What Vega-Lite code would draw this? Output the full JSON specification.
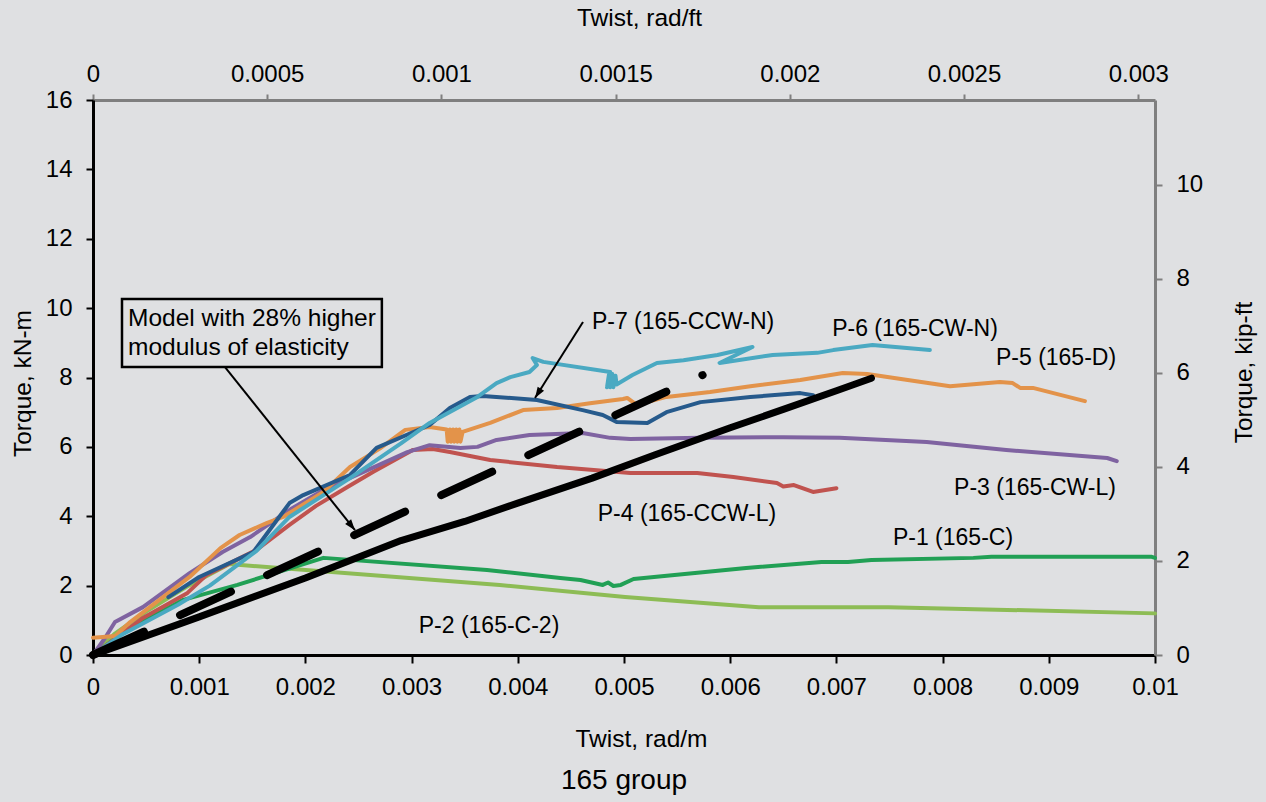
{
  "$schema": "https://vega.github.io/schema/vega-lite/v6.json",
  "width": 1062,
  "height": 555,
  "autosize": {"type": "none"},
  "padding": {"left": 93, "top": 100, "right": 111, "bottom": 147},
  "background": "#dfe0e2",
  "config": {
    "view": {"stroke": null},
    "font": "Liberation Sans",
    "axis": {
      "grid": false,
      "labelFont": "Liberation Sans",
      "labelFontSize": 24,
      "labelColor": "#000000",
      "titleFont": "Liberation Sans",
      "titleFontSize": 24.5,
      "titleFontWeight": "normal",
      "titleColor": "#000000",
      "labelFlush": false,
      "labelOverlap": false
    }
  },
  "title": {
    "text": "165 group",
    "orient": "bottom",
    "anchor": "middle",
    "offset": 16,
    "font": "Liberation Sans",
    "fontSize": 28,
    "fontWeight": "normal",
    "color": "#000000"
  },
  "datasets": {
    "curves": [
      {"s": "P-2", "i": 0, "v": 0, "T": 0},
      {"s": "P-2", "i": 1, "v": 0.0002, "T": 0.6},
      {"s": "P-2", "i": 2, "v": 0.0005, "T": 1.25},
      {"s": "P-2", "i": 3, "v": 0.0009, "T": 2.0},
      {"s": "P-2", "i": 4, "v": 0.00128, "T": 2.62},
      {"s": "P-2", "i": 5, "v": 0.00383, "T": 2.02},
      {"s": "P-2", "i": 6, "v": 0.00501, "T": 1.67},
      {"s": "P-2", "i": 7, "v": 0.00627, "T": 1.38},
      {"s": "P-2", "i": 8, "v": 0.00749, "T": 1.38},
      {"s": "P-2", "i": 9, "v": 0.01, "T": 1.2},

      {"s": "P-1", "i": 0, "v": 0, "T": 0},
      {"s": "P-1", "i": 1, "v": 0.0002, "T": 0.45},
      {"s": "P-1", "i": 2, "v": 0.00028, "T": 0.66},
      {"s": "P-1", "i": 3, "v": 0.00085, "T": 1.59},
      {"s": "P-1", "i": 4, "v": 0.00136, "T": 2.02},
      {"s": "P-1", "i": 5, "v": 0.00217, "T": 2.8},
      {"s": "P-1", "i": 6, "v": 0.00371, "T": 2.45},
      {"s": "P-1", "i": 7, "v": 0.0044, "T": 2.22},
      {"s": "P-1", "i": 8, "v": 0.00459, "T": 2.16},
      {"s": "P-1", "i": 9, "v": 0.0048, "T": 2.02},
      {"s": "P-1", "i": 10, "v": 0.00485, "T": 2.09},
      {"s": "P-1", "i": 11, "v": 0.0049, "T": 1.99},
      {"s": "P-1", "i": 12, "v": 0.00497, "T": 2.02},
      {"s": "P-1", "i": 13, "v": 0.00509, "T": 2.19},
      {"s": "P-1", "i": 14, "v": 0.00615, "T": 2.51},
      {"s": "P-1", "i": 15, "v": 0.00686, "T": 2.68},
      {"s": "P-1", "i": 16, "v": 0.00711, "T": 2.68},
      {"s": "P-1", "i": 17, "v": 0.00733, "T": 2.74},
      {"s": "P-1", "i": 18, "v": 0.00829, "T": 2.8},
      {"s": "P-1", "i": 19, "v": 0.00846, "T": 2.83},
      {"s": "P-1", "i": 20, "v": 0.00997, "T": 2.83},
      {"s": "P-1", "i": 21, "v": 0.01, "T": 2.8},

      {"s": "P-4", "i": 0, "v": 0, "T": 0},
      {"s": "P-4", "i": 1, "v": 0.00028, "T": 0.63},
      {"s": "P-4", "i": 2, "v": 0.00047, "T": 1.07},
      {"s": "P-4", "i": 3, "v": 0.00089, "T": 1.79},
      {"s": "P-4", "i": 4, "v": 0.00107, "T": 2.31},
      {"s": "P-4", "i": 5, "v": 0.00154, "T": 3.03},
      {"s": "P-4", "i": 6, "v": 0.00185, "T": 3.75},
      {"s": "P-4", "i": 7, "v": 0.0021, "T": 4.3},
      {"s": "P-4", "i": 8, "v": 0.0024, "T": 4.85},
      {"s": "P-4", "i": 9, "v": 0.00264, "T": 5.28},
      {"s": "P-4", "i": 10, "v": 0.00296, "T": 5.82},
      {"s": "P-4", "i": 11, "v": 0.00301, "T": 5.91},
      {"s": "P-4", "i": 12, "v": 0.0032, "T": 5.94},
      {"s": "P-4", "i": 13, "v": 0.00336, "T": 5.85},
      {"s": "P-4", "i": 14, "v": 0.00374, "T": 5.62},
      {"s": "P-4", "i": 15, "v": 0.00437, "T": 5.42},
      {"s": "P-4", "i": 16, "v": 0.00506, "T": 5.25},
      {"s": "P-4", "i": 17, "v": 0.00569, "T": 5.25},
      {"s": "P-4", "i": 18, "v": 0.00603, "T": 5.13},
      {"s": "P-4", "i": 19, "v": 0.00644, "T": 4.96},
      {"s": "P-4", "i": 20, "v": 0.0065, "T": 4.86},
      {"s": "P-4", "i": 21, "v": 0.0066, "T": 4.9},
      {"s": "P-4", "i": 22, "v": 0.00678, "T": 4.7},
      {"s": "P-4", "i": 23, "v": 0.007, "T": 4.81},

      {"s": "P-3", "i": 0, "v": 0, "T": 0},
      {"s": "P-3", "i": 1, "v": 0.000113, "T": 0.49},
      {"s": "P-3", "i": 2, "v": 0.000207, "T": 0.95},
      {"s": "P-3", "i": 3, "v": 0.00047, "T": 1.38},
      {"s": "P-3", "i": 4, "v": 0.00091, "T": 2.36},
      {"s": "P-3", "i": 5, "v": 0.00122, "T": 2.97},
      {"s": "P-3", "i": 6, "v": 0.00148, "T": 3.4},
      {"s": "P-3", "i": 7, "v": 0.00186, "T": 4.2},
      {"s": "P-3", "i": 8, "v": 0.00217, "T": 4.76},
      {"s": "P-3", "i": 9, "v": 0.0026, "T": 5.35},
      {"s": "P-3", "i": 10, "v": 0.00296, "T": 5.85},
      {"s": "P-3", "i": 11, "v": 0.00317, "T": 6.05},
      {"s": "P-3", "i": 12, "v": 0.00346, "T": 5.97},
      {"s": "P-3", "i": 13, "v": 0.00362, "T": 6.0},
      {"s": "P-3", "i": 14, "v": 0.0038, "T": 6.2},
      {"s": "P-3", "i": 15, "v": 0.00411, "T": 6.34},
      {"s": "P-3", "i": 16, "v": 0.00461, "T": 6.4},
      {"s": "P-3", "i": 17, "v": 0.00487, "T": 6.26},
      {"s": "P-3", "i": 18, "v": 0.00506, "T": 6.23},
      {"s": "P-3", "i": 19, "v": 0.00572, "T": 6.26},
      {"s": "P-3", "i": 20, "v": 0.0065, "T": 6.28},
      {"s": "P-3", "i": 21, "v": 0.00703, "T": 6.26},
      {"s": "P-3", "i": 22, "v": 0.00785, "T": 6.14},
      {"s": "P-3", "i": 23, "v": 0.0086, "T": 5.91},
      {"s": "P-3", "i": 24, "v": 0.00955, "T": 5.68},
      {"s": "P-3", "i": 25, "v": 0.00964, "T": 5.59},

      {"s": "P-5", "i": 0, "v": 0, "T": 0.5},
      {"s": "P-5", "i": 1, "v": 0.00021, "T": 0.55},
      {"s": "P-5", "i": 2, "v": 0.00035, "T": 0.95},
      {"s": "P-5", "i": 3, "v": 0.00091, "T": 2.25},
      {"s": "P-5", "i": 4, "v": 0.0012, "T": 3.08},
      {"s": "P-5", "i": 5, "v": 0.00138, "T": 3.46},
      {"s": "P-5", "i": 6, "v": 0.00164, "T": 3.81},
      {"s": "P-5", "i": 7, "v": 0.00179, "T": 3.98},
      {"s": "P-5", "i": 8, "v": 0.00217, "T": 4.7},
      {"s": "P-5", "i": 9, "v": 0.00242, "T": 5.42},
      {"s": "P-5", "i": 10, "v": 0.0027, "T": 5.95},
      {"s": "P-5", "i": 11, "v": 0.00294, "T": 6.49},
      {"s": "P-5", "i": 12, "v": 0.00317, "T": 6.57},
      {"s": "P-5", "i": 13, "v": 0.00333, "T": 6.5},
      {"s": "P-5", "i": 14, "v": 0.00334, "T": 6.15},
      {"s": "P-5", "i": 15, "v": 0.00336, "T": 6.5},
      {"s": "P-5", "i": 16, "v": 0.00337, "T": 6.15},
      {"s": "P-5", "i": 17, "v": 0.00339, "T": 6.5},
      {"s": "P-5", "i": 18, "v": 0.0034, "T": 6.15},
      {"s": "P-5", "i": 19, "v": 0.00342, "T": 6.5},
      {"s": "P-5", "i": 20, "v": 0.00343, "T": 6.15},
      {"s": "P-5", "i": 21, "v": 0.00345, "T": 6.5},
      {"s": "P-5", "i": 22, "v": 0.00346, "T": 6.15},
      {"s": "P-5", "i": 23, "v": 0.00348, "T": 6.43},
      {"s": "P-5", "i": 24, "v": 0.00374, "T": 6.69},
      {"s": "P-5", "i": 25, "v": 0.00405, "T": 7.06},
      {"s": "P-5", "i": 26, "v": 0.00437, "T": 7.12},
      {"s": "P-5", "i": 27, "v": 0.00468, "T": 7.26},
      {"s": "P-5", "i": 28, "v": 0.00499, "T": 7.38},
      {"s": "P-5", "i": 29, "v": 0.00503, "T": 7.41},
      {"s": "P-5", "i": 30, "v": 0.00512, "T": 7.21},
      {"s": "P-5", "i": 31, "v": 0.0054, "T": 7.44},
      {"s": "P-5", "i": 32, "v": 0.00581, "T": 7.58},
      {"s": "P-5", "i": 33, "v": 0.00619, "T": 7.75},
      {"s": "P-5", "i": 34, "v": 0.00666, "T": 7.93},
      {"s": "P-5", "i": 35, "v": 0.00706, "T": 8.13},
      {"s": "P-5", "i": 36, "v": 0.00729, "T": 8.1},
      {"s": "P-5", "i": 37, "v": 0.00807, "T": 7.75},
      {"s": "P-5", "i": 38, "v": 0.00854, "T": 7.87},
      {"s": "P-5", "i": 39, "v": 0.00866, "T": 7.84},
      {"s": "P-5", "i": 40, "v": 0.00873, "T": 7.7},
      {"s": "P-5", "i": 41, "v": 0.00885, "T": 7.7},
      {"s": "P-5", "i": 42, "v": 0.00934, "T": 7.32},

      {"s": "P-7", "i": 0, "v": 0.00071, "T": 1.67},
      {"s": "P-7", "i": 1, "v": 0.001, "T": 2.25},
      {"s": "P-7", "i": 2, "v": 0.00151, "T": 2.97},
      {"s": "P-7", "i": 3, "v": 0.00185, "T": 4.38},
      {"s": "P-7", "i": 4, "v": 0.00198, "T": 4.61},
      {"s": "P-7", "i": 5, "v": 0.00242, "T": 5.19},
      {"s": "P-7", "i": 6, "v": 0.00267, "T": 5.97},
      {"s": "P-7", "i": 7, "v": 0.00317, "T": 6.63},
      {"s": "P-7", "i": 8, "v": 0.00336, "T": 7.12},
      {"s": "P-7", "i": 9, "v": 0.00355, "T": 7.44},
      {"s": "P-7", "i": 10, "v": 0.00367, "T": 7.47},
      {"s": "P-7", "i": 11, "v": 0.00418, "T": 7.35},
      {"s": "P-7", "i": 12, "v": 0.00461, "T": 7.06},
      {"s": "P-7", "i": 13, "v": 0.0048, "T": 6.92},
      {"s": "P-7", "i": 14, "v": 0.00493, "T": 6.72},
      {"s": "P-7", "i": 15, "v": 0.00522, "T": 6.69},
      {"s": "P-7", "i": 16, "v": 0.0054, "T": 7.0},
      {"s": "P-7", "i": 17, "v": 0.00572, "T": 7.29},
      {"s": "P-7", "i": 18, "v": 0.00619, "T": 7.44},
      {"s": "P-7", "i": 19, "v": 0.00666, "T": 7.55},
      {"s": "P-7", "i": 20, "v": 0.00678, "T": 7.49},

      {"s": "P-6", "i": 0, "v": 0, "T": 0},
      {"s": "P-6", "i": 1, "v": 0.00028, "T": 0.6},
      {"s": "P-6", "i": 2, "v": 0.0008, "T": 1.45},
      {"s": "P-6", "i": 3, "v": 0.0011, "T": 2.0},
      {"s": "P-6", "i": 4, "v": 0.00154, "T": 3.0},
      {"s": "P-6", "i": 5, "v": 0.00185, "T": 3.98},
      {"s": "P-6", "i": 6, "v": 0.00242, "T": 5.1},
      {"s": "P-6", "i": 7, "v": 0.0029, "T": 6.1},
      {"s": "P-6", "i": 8, "v": 0.00317, "T": 6.69},
      {"s": "P-6", "i": 9, "v": 0.00362, "T": 7.44},
      {"s": "P-6", "i": 10, "v": 0.0038, "T": 7.84},
      {"s": "P-6", "i": 11, "v": 0.00393, "T": 8.01},
      {"s": "P-6", "i": 12, "v": 0.00411, "T": 8.16},
      {"s": "P-6", "i": 13, "v": 0.00418, "T": 8.36},
      {"s": "P-6", "i": 14, "v": 0.00414, "T": 8.56},
      {"s": "P-6", "i": 15, "v": 0.00424, "T": 8.45},
      {"s": "P-6", "i": 16, "v": 0.00487, "T": 8.16},
      {"s": "P-6", "i": 17, "v": 0.00484, "T": 7.72},
      {"s": "P-6", "i": 18, "v": 0.00486, "T": 8.12},
      {"s": "P-6", "i": 19, "v": 0.00487, "T": 7.72},
      {"s": "P-6", "i": 20, "v": 0.00489, "T": 8.1},
      {"s": "P-6", "i": 21, "v": 0.0049, "T": 7.72},
      {"s": "P-6", "i": 22, "v": 0.00492, "T": 8.05},
      {"s": "P-6", "i": 23, "v": 0.00493, "T": 7.8},
      {"s": "P-6", "i": 24, "v": 0.00508, "T": 8.07},
      {"s": "P-6", "i": 25, "v": 0.00531, "T": 8.42},
      {"s": "P-6", "i": 26, "v": 0.00556, "T": 8.5},
      {"s": "P-6", "i": 27, "v": 0.00588, "T": 8.65},
      {"s": "P-6", "i": 28, "v": 0.00621, "T": 8.88},
      {"s": "P-6", "i": 29, "v": 0.0059, "T": 8.42},
      {"s": "P-6", "i": 30, "v": 0.0064, "T": 8.65},
      {"s": "P-6", "i": 31, "v": 0.00682, "T": 8.71},
      {"s": "P-6", "i": 32, "v": 0.00697, "T": 8.79},
      {"s": "P-6", "i": 33, "v": 0.00734, "T": 8.94},
      {"s": "P-6", "i": 34, "v": 0.00788, "T": 8.79}
    ],
    "model": [
      {"i": 0, "v": 0, "T": 0},
      {"i": 1, "v": 0.001, "T": 1.1},
      {"i": 2, "v": 0.002, "T": 2.22},
      {"i": 3, "v": 0.0029, "T": 3.3},
      {"i": 4, "v": 0.0035, "T": 3.85},
      {"i": 5, "v": 0.004, "T": 4.38},
      {"i": 6, "v": 0.0047, "T": 5.1},
      {"i": 7, "v": 0.0053, "T": 5.78},
      {"i": 8, "v": 0.006, "T": 6.55},
      {"i": 9, "v": 0.0065, "T": 7.08},
      {"i": 10, "v": 0.007, "T": 7.62},
      {"i": 11, "v": 0.00733, "T": 7.98}
    ],
    "model28": [
      {"i": 0, "v": 0, "T": 0},
      {"i": 1, "v": 0.00574, "T": 8.07}
    ],
    "arrows": [
      {"id": "a1", "i": 0, "v": 0.001243, "T": 8.3},
      {"id": "a1", "i": 1, "v": 0.002467, "T": 3.6},
      {"id": "a2", "i": 0, "v": 0.004614, "T": 9.6},
      {"id": "a2", "i": 1, "v": 0.004162, "T": 7.41}
    ],
    "labels": [
      {"label": "P-7 (165-CCW-N)", "v": 0.005556, "T": 9.6},
      {"label": "P-6 (165-CW-N)", "v": 0.00774, "T": 9.4},
      {"label": "P-5 (165-D)", "v": 0.009068, "T": 8.56},
      {"label": "P-3 (165-CW-L)", "v": 0.00887, "T": 4.81},
      {"label": "P-4 (165-CCW-L)", "v": 0.005593, "T": 4.06},
      {"label": "P-1 (165-C)", "v": 0.008098, "T": 3.37},
      {"label": "P-2 (165-C-2)", "v": 0.003729, "T": 0.84}
    ],
    "box": [
      {"v": 0.000273, "v2": 0.00272, "T": 8.3, "T2": 10.26}
    ],
    "boxtext": [
      {"label": "Model with 28% higher", "v": 0.00033, "T": 9.69},
      {"label": "modulus of elasticity", "v": 0.00033, "T": 8.85}
    ],
    "corners": [
      {"radft": 0, "kipft": 0},
      {"radft": 0.003048, "kipft": 11.801}
    ]
  },
  "layer": [
    {
      "layer": [
        {
          "data": {"name": "box"},
          "mark": {"type": "rect", "fill": "#dfe0e2", "stroke": "#000000", "strokeWidth": 2.5},
          "encoding": {
            "x": {
              "field": "v", "type": "quantitative",
              "scale": {"domain": [0, 0.01], "nice": false, "zero": false},
              "axis": {
                "orient": "bottom",
                "values": [0, 0.001, 0.002, 0.003, 0.004, 0.005, 0.006, 0.007, 0.008, 0.009, 0.01],
                "format": "~g",
                "title": "Twist, rad/m",
                "titleX": 548, "titleY": 84,
                "titleAlign": "center", "titleBaseline": "middle", "titleAngle": 0,
                "domainColor": "#000000", "domainWidth": 3,
                "tickColor": "#000000", "tickWidth": 2, "tickSize": 8,
                "labelPadding": 12
              }
            },
            "x2": {"field": "v2"},
            "y": {
              "field": "T", "type": "quantitative",
              "scale": {"domain": [0, 16], "nice": false, "zero": false},
              "axis": {
                "orient": "left",
                "values": [0, 2, 4, 6, 8, 10, 12, 14, 16],
                "title": "Torque, kN-m",
                "titleX": -70, "titleY": 283,
                "titleAlign": "center", "titleBaseline": "middle", "titleAngle": -90,
                "domainColor": "#000000", "domainWidth": 3,
                "tickColor": "#000000", "tickWidth": 2, "tickSize": 7,
                "labelPadding": 14
              }
            },
            "y2": {"field": "T2"}
          }
        },
        {
          "data": {"name": "curves"},
          "mark": {"type": "line", "strokeWidth": 4, "strokeJoin": "round", "strokeCap": "round"},
          "encoding": {
            "x": {"field": "v", "type": "quantitative"},
            "y": {"field": "T", "type": "quantitative"},
            "order": {"field": "i", "type": "quantitative"},
            "color": {
              "field": "s", "type": "nominal", "legend": null,
              "scale": {
                "domain": ["P-2", "P-1", "P-4", "P-3", "P-5", "P-7", "P-6"],
                "range": ["#8dbc55", "#21a055", "#c0534f", "#7f63a1", "#e3934a", "#265a8c", "#4aa9c2"]
              }
            }
          }
        },
        {
          "data": {"name": "model"},
          "mark": {"type": "line", "color": "#000000", "strokeWidth": 7, "strokeCap": "round", "strokeJoin": "round"},
          "encoding": {
            "x": {"field": "v", "type": "quantitative"},
            "y": {"field": "T", "type": "quantitative"},
            "order": {"field": "i", "type": "quantitative"}
          }
        },
        {
          "data": {"name": "model28"},
          "mark": {"type": "line", "color": "#000000", "strokeWidth": 8, "strokeCap": "round", "strokeDash": [56, 39.8]},
          "encoding": {
            "x": {"field": "v", "type": "quantitative"},
            "y": {"field": "T", "type": "quantitative"},
            "order": {"field": "i", "type": "quantitative"}
          }
        },
        {
          "data": {"name": "arrows"},
          "mark": {"type": "line", "color": "#000000", "strokeWidth": 2},
          "encoding": {
            "x": {"field": "v", "type": "quantitative"},
            "y": {"field": "T", "type": "quantitative"},
            "detail": {"field": "id", "type": "nominal"},
            "order": {"field": "i", "type": "quantitative"}
          }
        },
        {
          "data": {"name": "arrows"},
          "transform": [{"filter": "datum.id === 'a1' && datum.i === 1"}],
          "mark": {"type": "point", "shape": "M0,0L-0.38,1.1L0.38,1.1Z", "filled": true, "color": "#000000", "opacity": 1, "size": 400, "angle": 141.4},
          "encoding": {
            "x": {"field": "v", "type": "quantitative"},
            "y": {"field": "T", "type": "quantitative"}
          }
        },
        {
          "data": {"name": "arrows"},
          "transform": [{"filter": "datum.id === 'a2' && datum.i === 1"}],
          "mark": {"type": "point", "shape": "M0,0L-0.38,1.1L0.38,1.1Z", "filled": true, "color": "#000000", "opacity": 1, "size": 400, "angle": 212.3},
          "encoding": {
            "x": {"field": "v", "type": "quantitative"},
            "y": {"field": "T", "type": "quantitative"}
          }
        },
        {
          "data": {"name": "labels"},
          "mark": {"type": "text", "font": "Liberation Sans", "fontSize": 23, "color": "#000000", "align": "center", "baseline": "middle"},
          "encoding": {
            "x": {"field": "v", "type": "quantitative"},
            "y": {"field": "T", "type": "quantitative"},
            "text": {"field": "label", "type": "nominal"}
          }
        },
        {
          "data": {"name": "boxtext"},
          "mark": {"type": "text", "font": "Liberation Sans", "fontSize": 24.5, "color": "#000000", "align": "left", "baseline": "middle"},
          "encoding": {
            "x": {"field": "v", "type": "quantitative"},
            "y": {"field": "T", "type": "quantitative"},
            "text": {"field": "label", "type": "nominal"}
          }
        }
      ]
    },
    {
      "data": {"name": "corners"},
      "mark": {"type": "point", "opacity": 0},
      "encoding": {
        "x": {
          "field": "radft", "type": "quantitative",
          "scale": {"domain": [0, 0.003048], "nice": false, "zero": false},
          "axis": {
            "orient": "top",
            "values": [0, 0.0005, 0.001, 0.0015, 0.002, 0.0025, 0.003],
            "format": "~g",
            "title": "Twist, rad/ft",
            "titleX": 546, "titleY": -82,
            "titleAlign": "center", "titleBaseline": "middle", "titleAngle": 0,
            "domainColor": "#7f7f7f", "domainWidth": 3,
            "tickColor": "#7f7f7f", "tickWidth": 2, "tickSize": 6,
            "labelPadding": 8
          }
        },
        "y": {
          "field": "kipft", "type": "quantitative",
          "scale": {"domain": [0, 11.801], "nice": false, "zero": false},
          "axis": {
            "orient": "right",
            "values": [0, 2, 4, 6, 8, 10],
            "title": "Torque, kip-ft",
            "titleX": 89, "titleY": 272,
            "titleAlign": "center", "titleBaseline": "middle", "titleAngle": -90,
            "domainColor": "#7f7f7f", "domainWidth": 3,
            "tickColor": "#7f7f7f", "tickWidth": 2, "tickSize": 7,
            "labelPadding": 14
          }
        }
      }
    }
  ],
  "resolve": {
    "scale": {"x": "independent", "y": "independent"},
    "axis": {"x": "independent", "y": "independent"}
  }
}
